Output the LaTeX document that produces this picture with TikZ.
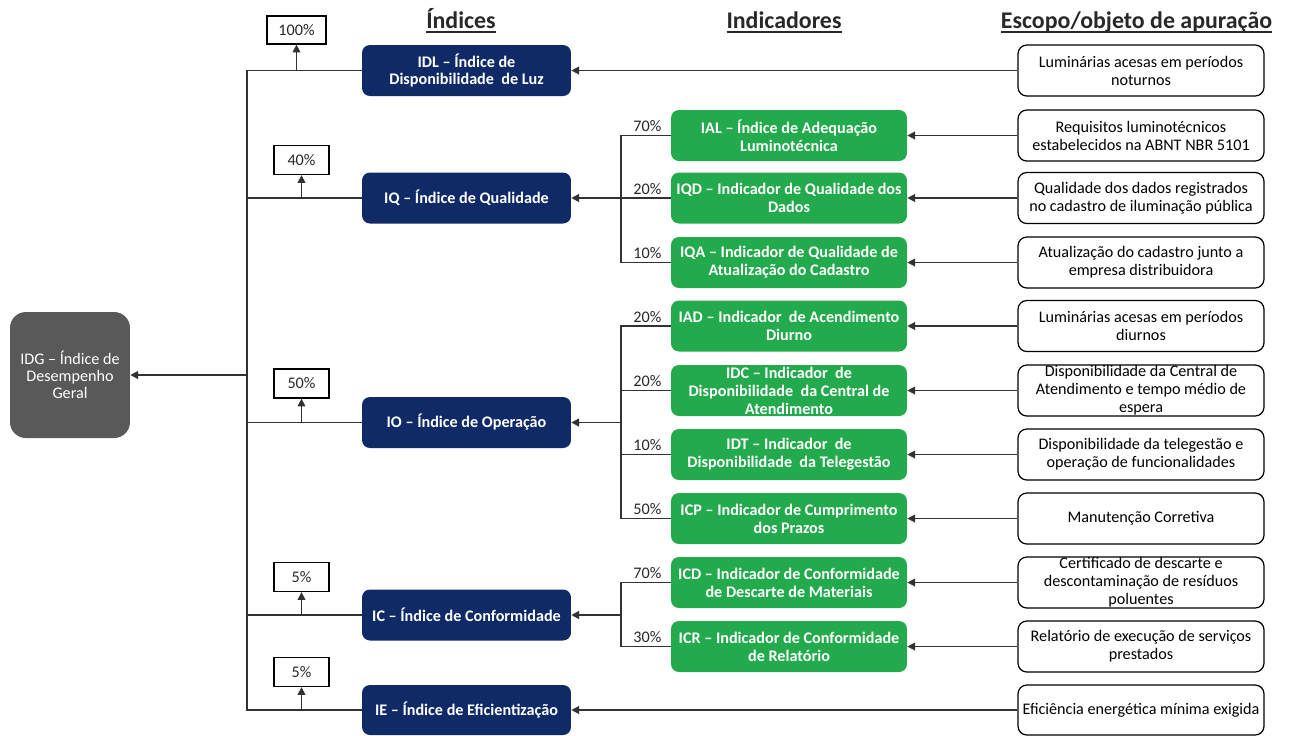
\documentclass[tikz,border=0pt]{standalone}
\usepackage{fontspec}
\setmainfont{Carlito}
\usetikzlibrary{arrows.meta,calc}
\definecolor{navy}{RGB}{16,42,104}
\definecolor{grn}{RGB}{34,170,76}
\definecolor{idggray}{RGB}{89,89,89}
\definecolor{linec}{RGB}{50,50,50}
\definecolor{txtc}{RGB}{40,40,40}
\newcommand{\thickul}[1]{\setbox0\hbox{#1}\leavevmode\rlap{\vrule height -1.7pt depth 2.8pt width \wd0}\box0}
\tikzset{
  ln/.style={draw=linec, line width=0.8pt},
  arr/.style={ln, -{Triangle[length=4.4pt,width=4.4pt]}},
  bluebox/.style={rectangle, rounded corners=4.5pt, fill=navy, text=white, inner sep=0pt,
    minimum width=4.18cm, minimum height=1.02cm, align=center,
    font=\fontsize{9.2}{10.2}\selectfont\bfseries},
  greenbox/.style={rectangle, rounded corners=4.5pt, fill=grn, text=white, inner sep=0pt,
    minimum width=4.72cm, minimum height=1.02cm, align=center,
    font=\fontsize{9.2}{10.2}\selectfont\bfseries},
  scopebox/.style={rectangle, rounded corners=5pt, draw=black, line width=0.7pt, fill=white,
    inner sep=0pt, minimum width=4.92cm, minimum height=1.02cm, align=center, text=black,
    font=\fontsize{9.2}{10.2}\selectfont},
  pctbox/.style={rectangle, draw=black, line width=0.7pt, fill=white, inner sep=0pt,
    minimum width=1.1cm, minimum height=0.58cm, text=txtc, font=\fontsize{9.2}{10.2}\selectfont},
  pctlbl/.style={anchor=base east, inner sep=0pt, text=txtc, font=\fontsize{9.2}{10.2}\selectfont},
  header/.style={anchor=base, inner sep=0pt, text=txtc, font=\fontsize{13.6}{15}\selectfont\bfseries},
}
\begin{document}
\begin{tikzpicture}[x=0.02cm,y=-0.02cm]
\useasboundingbox (0,0) rectangle (1290,735);

% headers
\node[header] (h1) at (461,28) {\thickul{Índices}};
\node[header] (h2) at (784,28) {\thickul{Indicadores}};
\node[header] (h3) at (1136.5,28) {\thickul{Escopo/objeto de apuração}};

% IDG
\node[rectangle, rounded corners=9pt, fill=idggray, text=white, inner sep=0pt,
  minimum width=2.4cm, minimum height=2.52cm, align=center,
  font=\fontsize{9.2}{9.8}\selectfont] (idg) at (70,375) {IDG – Índice de\\Desempenho\\Geral};

% blue index boxes
\node[bluebox] (idl) at (466.5,70.5) {IDL – Índice de\\Disponibilidade\ \ de Luz};
\node[bluebox] (iq)  at (466.5,198) {IQ – Índice de Qualidade};
\node[bluebox] (io)  at (466.5,422.5) {IO – Índice de Operação};
\node[bluebox] (ic)  at (466.5,615) {IC – Índice de Conformidade};
\node[bluebox, minimum height=1.0cm] (ie)  at (466.5,710) {IE – Índice de Eficientização};

% green indicator boxes
\node[greenbox] (ial) at (789,135.5) {IAL – Índice de Adequação\\Luminotécnica};
\node[greenbox] (iqd) at (789,198) {IQD – Indicador de Qualidade dos\\Dados};
\node[greenbox] (iqa) at (789,262.5) {IQA – Indicador de Qualidade de\\Atualização do Cadastro};
\node[greenbox] (iad) at (789,326) {IAD – Indicador\ \ de Acendimento\\Diurno};
\node[greenbox] (idc) at (789,390.5) {IDC – Indicador\ \ de\\Disponibilidade\ \ da Central de\\Atendimento};
\node[greenbox] (idt) at (789,454.5) {IDT – Indicador\ \ de\\Disponibilidade\ \ da Telegestão};
\node[greenbox] (icp) at (789,518.5) {ICP – Indicador de Cumprimento\\dos Prazos};
\node[greenbox] (icd) at (789,582.5) {ICD – Indicador de Conformidade\\de Descarte de Materiais};
\node[greenbox] (icr) at (789,646.5) {ICR – Indicador de Conformidade\\de Relatório};

% scope boxes
\node[scopebox] (s1)  at (1141,70.5) {Luminárias acesas em períodos\\noturnos};
\node[scopebox] (s2)  at (1141,135.5) {Requisitos luminotécnicos\\estabelecidos na ABNT NBR 5101};
\node[scopebox] (s3)  at (1141,198) {Qualidade dos dados registrados\\no cadastro de iluminação pública};
\node[scopebox] (s4)  at (1141,262.5) {Atualização do cadastro junto a\\empresa distribuidora};
\node[scopebox] (s5)  at (1141,326) {Luminárias acesas em períodos\\diurnos};
\node[scopebox] (s6)  at (1141,390.5) {Disponibilidade da Central de\\Atendimento e tempo médio de\\espera};
\node[scopebox] (s7)  at (1141,454.5) {Disponibilidade da telegestão e\\operação de funcionalidades};
\node[scopebox] (s8)  at (1141,518.5) {Manutenção Corretiva};
\node[scopebox] (s9)  at (1141,582.5) {Certificado de descarte e\\descontaminação de resíduos\\poluentes};
\node[scopebox] (s10) at (1141,646.5) {Relatório de execução de serviços\\prestados};
\node[scopebox, minimum height=1.0cm] (s11) at (1141,710) {Eficiência energética mínima exigida};

% percentage boxes on the main bus
\node[pctbox, minimum width=1.18cm, minimum height=0.56cm] (p1) at (296.5,30) {100\%};
\node[pctbox] (p2) at (301.5,160) {40\%};
\node[pctbox] (p3) at (301.5,383.5) {50\%};
\node[pctbox] (p4) at (301.5,577) {5\%};
\node[pctbox] (p5) at (301.5,672) {5\%};

% main bus
\coordinate (bus) at (247,375);
\draw[ln] (idl.west) -- (idl.west -| bus) -- (ie.west -| bus) -- (ie.west);
\draw[ln] (iq.west) -- (iq.west -| bus);
\draw[ln] (io.west) -- (io.west -| bus);
\draw[ln] (ic.west) -- (ic.west -| bus);
\draw[arr] (bus) -- (idg.east);

\draw[arr, line width=0.6pt] (p1.south |- idl.west) -- (p1.south);
\draw[arr, line width=0.6pt] (p2.south |- iq.west) -- (p2.south);
\draw[arr, line width=0.6pt] (p3.south |- io.west) -- (p3.south);
\draw[arr, line width=0.6pt] (p4.south |- ic.west) -- (p4.south);
\draw[arr, line width=0.6pt] (p5.south |- ie.west) -- (p5.south);

% sub-buses
\coordinate (sb) at (621,0);
\draw[ln] (ial.west) -- (ial.west -| sb) -- (iqa.west -| sb) -- (iqa.west);
\draw[ln] (iqd.west) -- (iqd.west -| sb);
\draw[arr, line width=1.1pt] (iq.east -| sb) -- (iq.east);

\draw[ln] (iad.west) -- (iad.west -| sb) -- (icp.west -| sb) -- (icp.west);
\draw[ln] (idc.west) -- (idc.west -| sb);
\draw[ln] (idt.west) -- (idt.west -| sb);
\draw[arr, line width=1.1pt] (io.east -| sb) -- (io.east);

\draw[ln] (icd.west) -- (icd.west -| sb) -- (icr.west -| sb) -- (icr.west);
\draw[arr, line width=1.1pt] (ic.east -| sb) -- (ic.east);

% percentage labels
\node[pctlbl] (l1) at ($(ial.west)+(-9,-4)$) {70\%};
\node[pctlbl] (l2) at ($(iqd.west)+(-9,-4)$) {20\%};
\node[pctlbl] (l3) at ($(iqa.west)+(-9,-4)$) {10\%};
\node[pctlbl] (l4) at ($(iad.west)+(-9,-4)$) {20\%};
\node[pctlbl] (l5) at ($(idc.west)+(-9,-4)$) {20\%};
\node[pctlbl] (l6) at ($(idt.west)+(-9,-4)$) {10\%};
\node[pctlbl] (l7) at ($(icp.west)+(-9,-4)$) {50\%};
\node[pctlbl] (l8) at ($(icd.west)+(-9,-4)$) {70\%};
\node[pctlbl] (l9) at ($(icr.west)+(-9,-4)$) {30\%};

% scope -> indicator arrows
\draw[arr] (s1) -- (idl);
\draw[arr] (s2) -- (ial);
\draw[arr] (s3) -- (iqd);
\draw[arr] (s4) -- (iqa);
\draw[arr] (s5) -- (iad);
\draw[arr] (s6) -- (idc);
\draw[arr] (s7) -- (idt);
\draw[arr] (s8) -- (icp);
\draw[arr] (s9) -- (icd);
\draw[arr] (s10) -- (icr);
\draw[arr] (s11) -- (ie);
\end{tikzpicture}
\end{document}
